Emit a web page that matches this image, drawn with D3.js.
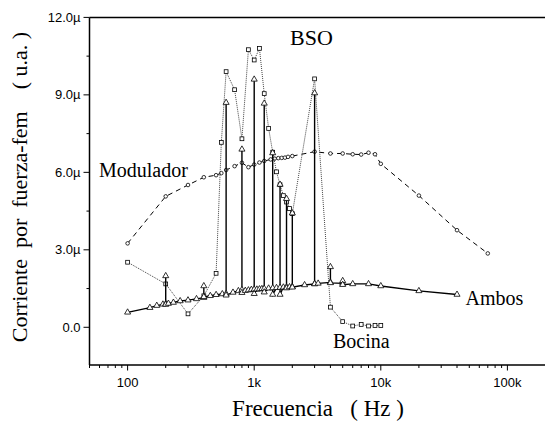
<!DOCTYPE html>
<html>
<head>
<meta charset="utf-8">
<script src="https://cdn.jsdelivr.net/npm/d3@7"></script>
<style>
  body { margin: 0; background: #fff; }
  svg text { white-space: pre; }
</style>
</head>
<body>
<svg id="chart" width="545" height="425"></svg>
<script>
// Modulador (circles, dashed)
const modulador = [
  [100, 3.25], [200, 5.07], [300, 5.51], [400, 5.81], [500, 5.89], [550, 5.97],
  [600, 6.09], [700, 6.24], [800, 6.37], [900, 6.2], [1000, 6.3], [1100, 6.38],
  [1200, 6.44], [1350, 6.5], [1450, 6.53], [1550, 6.55], [1650, 6.56], [1750, 6.57],
  [1850, 6.6], [2000, 6.63], [3000, 6.8], [4000, 6.73], [5000, 6.73], [6000, 6.7],
  [7000, 6.69], [8000, 6.76], [9000, 6.7], [10000, 6.33], [20000, 5.1],
  [40000, 3.76], [70000, 2.86]
];

// Bocina (squares, dotted)
const bocina = [
  [100, 2.52], [200, 1.68], [300, 0.52], [400, 1.22], [500, 2.09], [550, 7.16],
  [600, 9.9], [700, 9.2], [800, 7.3], [900, 10.75], [1000, 10.35], [1100, 10.8],
  [1200, 9.05], [1300, 7.7], [1400, 6.78], [1500, 6.02], [1600, 5.52], [1700, 5.1],
  [1800, 4.85], [1900, 4.6], [2000, 4.4], [3000, 9.62], [4000, 0.78], [5000, 0.22],
  [6000, 0.05], [7000, 0.11], [8000, 0.05], [9000, 0.07], [10000, 0.07]
];

// Ambos (triangles, solid, with resonance spikes)
const ambos = [
  [100, 0.58], [150, 0.76], [170, 0.84], [190, 0.89], [200, 0.91], [200, 1.99], [200, 0.88],
  [210, 0.92], [230, 0.96], [260, 1.02], [300, 1.05], [350, 1.1], [400, 1.15], [400, 1.6],
  [400, 1.18], [450, 1.22], [500, 1.26], [560, 1.29], [600, 1.3], [600, 8.7], [600, 1.24],
  [680, 1.35], [750, 1.41], [800, 1.45], [800, 6.89], [800, 1.34], [850, 1.42], [900, 1.44],
  [950, 1.46], [1000, 1.47], [1000, 9.6], [1000, 1.3], [1050, 1.47], [1100, 1.48],
  [1150, 1.49], [1200, 1.5], [1200, 8.67], [1200, 1.36], [1300, 1.51], [1400, 1.52],
  [1400, 6.75], [1400, 1.27], [1500, 1.53], [1600, 1.54], [1600, 5.53], [1600, 1.27],
  [1700, 1.55], [1800, 1.56], [1800, 4.98], [1800, 1.52], [1900, 1.56], [2000, 1.57],
  [2000, 4.42], [2000, 1.55], [2500, 1.64], [3000, 1.68], [3000, 9.07], [3000, 1.68],
  [3200, 1.7], [4000, 1.74], [4000, 2.34], [4000, 1.72], [5000, 1.7], [5000, 1.8],
  [5000, 1.65], [6000, 1.68], [8000, 1.68], [10000, 1.6], [20000, 1.41], [40000, 1.27]
];

const xMajor = [100, 1000, 10000, 100000];
const xMajorLabels = ['100', '1k', '10k', '100k'];
const yMajor = [0, 3, 6, 9, 12];
const yMajorLabels = ['0.0', '3.0\u00b5', '6.0\u00b5', '9.0\u00b5', '12.0\u00b5'];
const yMinor = [1.5, 4.5, 7.5, 10.5];

const svg = d3.select('#chart');
const plotL = 89.5, plotR = 545.5, plotT = 17.4, plotB = 365;

const x = d3.scaleLog().domain([50, 200000]).range([plotL, plotR]);
const y = d3.scaleLinear().domain([-1.46, 12]).range([plotB, plotT]);

// minor log ticks
const xMinor = [];
[10, 100, 1000, 10000, 100000].forEach(d => {
  for (let k = 2; k <= 9; k++) {
    const v = d * k;
    if (v >= 50 && v <= 200000 && !xMajor.includes(v)) xMinor.push(v);
  }
});

const axisFont = 'Liberation Sans, Arial, sans-serif';
const serif = 'Liberation Serif, Times New Roman, serif';

// x axis
const xAxis = svg.append('g').attr('transform', `translate(0,${plotB})`);
xAxis.append('line').attr('x1', plotL).attr('x2', plotR).attr('stroke', '#000').attr('stroke-width', 1.5);
xAxis.selectAll('.minor').data(xMinor).enter().append('line')
  .attr('x1', d => x(d)).attr('x2', d => x(d)).attr('y1', 0).attr('y2', 3)
  .attr('stroke', '#000').attr('stroke-width', 1);
xAxis.selectAll('.major').data(xMajor).enter().append('line')
  .attr('x1', d => x(d)).attr('x2', d => x(d)).attr('y1', 0).attr('y2', 5.5)
  .attr('stroke', '#000').attr('stroke-width', 1);
xAxis.selectAll('.lbl').data(xMajor).enter().append('text')
  .attr('x', d => x(d)).attr('y', 22)
  .attr('text-anchor', 'middle')
  .attr('font-family', axisFont).attr('font-size', 13)
  .text((d, i) => xMajorLabels[i]);

// y axis
const yAxis = svg.append('g').attr('transform', `translate(${plotL},0)`);
yAxis.append('line').attr('y1', plotT).attr('y2', plotB).attr('stroke', '#000').attr('stroke-width', 1.5);
yAxis.selectAll('.minor').data(yMinor).enter().append('line')
  .attr('x1', 0).attr('x2', -3).attr('y1', d => y(d)).attr('y2', d => y(d))
  .attr('stroke', '#000').attr('stroke-width', 1);
yAxis.selectAll('.major').data(yMajor).enter().append('line')
  .attr('x1', 0).attr('x2', -6).attr('y1', d => y(d)).attr('y2', d => y(d))
  .attr('stroke', '#000').attr('stroke-width', 1);
yAxis.selectAll('.lbl').data(yMajor).enter().append('text')
  .attr('x', -9).attr('y', d => y(d)).attr('dy', '0.35em')
  .attr('text-anchor', 'end')
  .attr('font-family', axisFont).attr('font-size', 13)
  .text((d, i) => yMajorLabels[i]);

// top frame line
svg.append('line').attr('x1', plotL).attr('x2', plotR).attr('y1', plotT).attr('y2', plotT)
  .attr('stroke', '#000').attr('stroke-width', 1.5);

const line = d3.line().x(d => x(d[0])).y(d => y(d[1]));

// Modulador
svg.append('path').datum(modulador).attr('d', line)
  .attr('fill', 'none').attr('stroke', '#000').attr('stroke-width', 1)
  .attr('stroke-dasharray', '5,4');
svg.selectAll('.mod').data(modulador).enter().append('circle')
  .attr('cx', d => x(d[0])).attr('cy', d => y(d[1])).attr('r', 1.8)
  .attr('fill', '#fff').attr('stroke', '#000').attr('stroke-width', 0.8);

// Bocina
svg.append('path').datum(bocina).attr('d', line)
  .attr('fill', 'none').attr('stroke', '#444').attr('stroke-width', 1)
  .attr('stroke-dasharray', '1,1');
svg.selectAll('.boc').data(bocina).enter().append('rect')
  .attr('x', d => x(d[0]) - 1.9).attr('y', d => y(d[1]) - 1.9)
  .attr('width', 3.8).attr('height', 3.8)
  .attr('fill', '#fff').attr('stroke', '#000').attr('stroke-width', 0.8);

// Ambos
svg.append('path').datum(ambos).attr('d', line)
  .attr('fill', 'none').attr('stroke', '#000').attr('stroke-width', 1.4);
const tri = d3.symbol().type(d3.symbolTriangle).size(16);
svg.selectAll('.amb').data(ambos).enter().append('path')
  .attr('d', tri)
  .attr('transform', d => `translate(${x(d[0])},${y(d[1])})`)
  .attr('fill', '#fff').attr('stroke', '#000').attr('stroke-width', 0.8);

// annotations
const notes = [
  { t: 'BSO', x: 290, y: 45, s: 22 },
  { t: 'Modulador', x: 99, y: 176.5, s: 20 },
  { t: 'Ambos', x: 465.5, y: 304.5, s: 20 },
  { t: 'Bocina', x: 333, y: 348, s: 20 }
];
svg.selectAll('.note').data(notes).enter().append('text')
  .attr('x', d => d.x).attr('y', d => d.y)
  .attr('font-family', serif).attr('font-size', d => d.s)
  .text(d => d.t);

// axis titles
svg.append('text')
  .attr('x', 318).attr('y', 416)
  .attr('text-anchor', 'middle')
  .attr('font-family', serif).attr('font-size', 23)
  .text('Frecuencia   ( Hz )');

svg.append('text')
  .attr('transform', 'translate(27,187) rotate(-90)')
  .attr('text-anchor', 'middle')
  .attr('font-family', serif).attr('font-size', 22)
  .text('Corriente  por  fuerza-fem    ( u.a. )');
</script>
</body>
</html>
